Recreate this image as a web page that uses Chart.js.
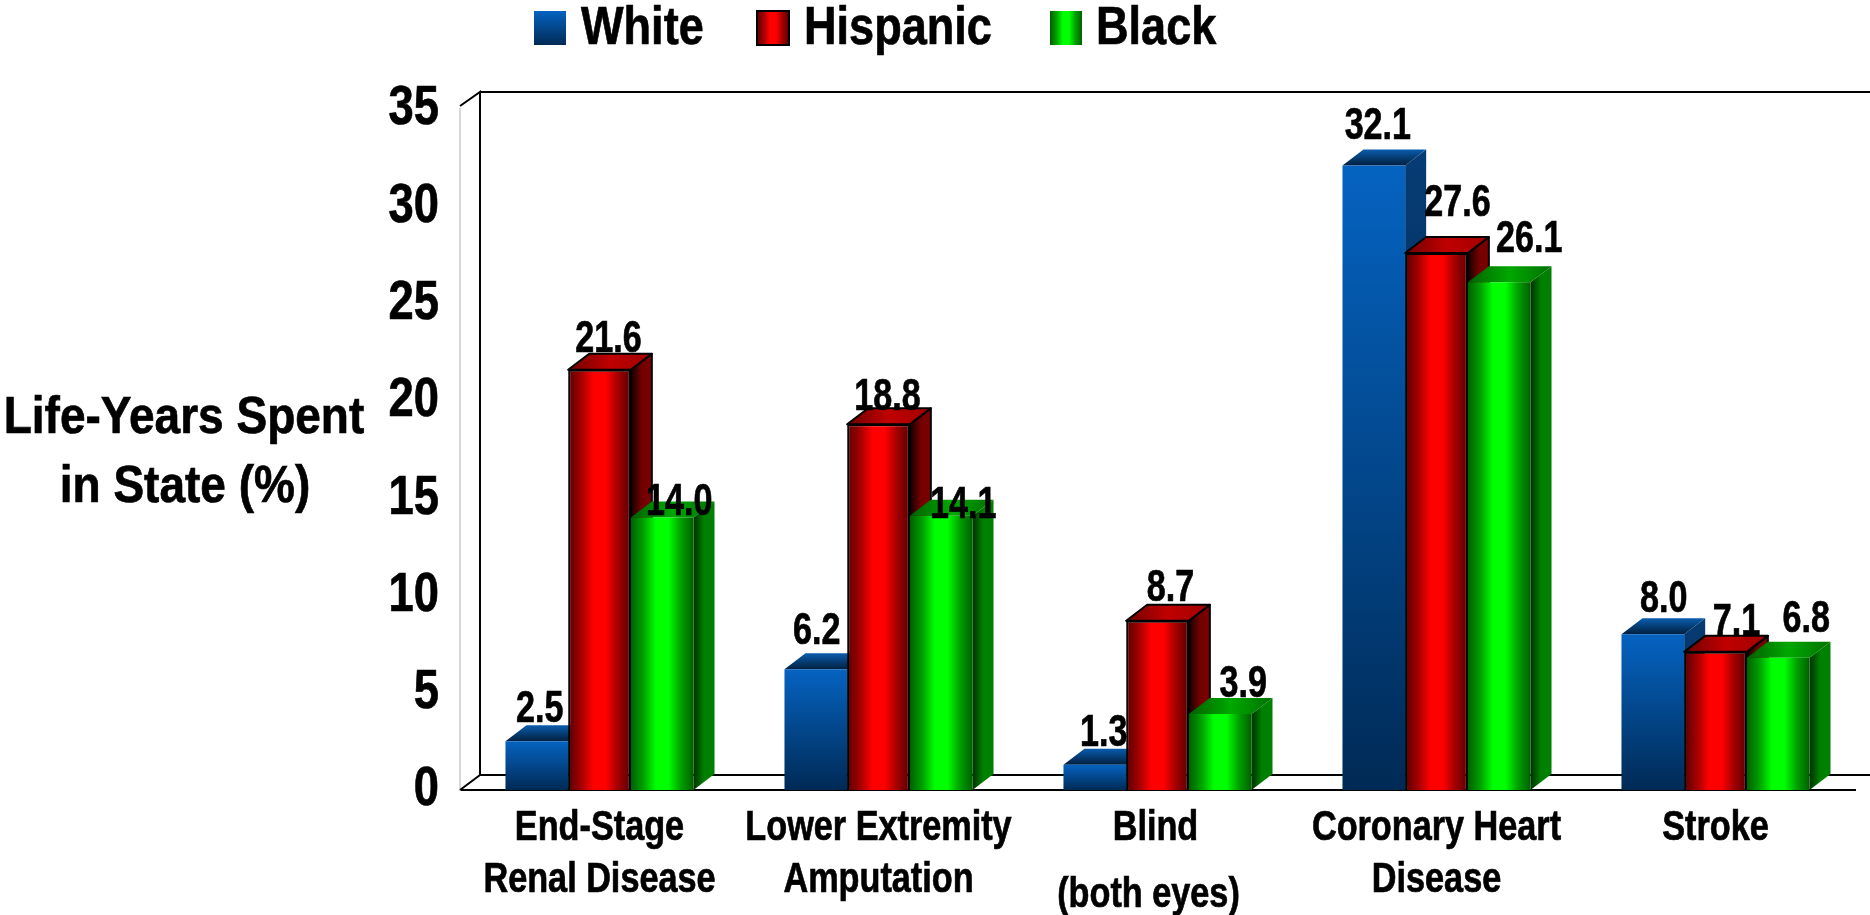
<!DOCTYPE html>
<html>
<head>
<meta charset="utf-8">
<title>Life-Years Spent in State</title>
<script src="https://cdn.jsdelivr.net/npm/chart.js@4"></script>
<style>
  html, body { margin: 0; padding: 0; background: #fff; }
  #wrap { width: 1870px; height: 915px; }
</style>
</head>
<body>
<div id="wrap"><canvas id="myChart"></canvas></div>
<script>
const categories = [
  ["End-Stage", "Renal Disease"],
  ["Lower Extremity", "Amputation"],
  ["Blind", "(both eyes)"],
  ["Coronary Heart", "Disease"],
  ["Stroke"],
];
const white = [2.5, 6.2, 1.3, 32.1, 8.0];
const hispanic = [21.6, 18.8, 8.7, 27.6, 7.1];
const black = [14.0, 14.1, 3.9, 26.1, 6.8];
const seriesNames = ["White", "Hispanic", "Black"];
const yTitle = ["Life-Years Spent", "in State (%)"];

const FONT = '"Liberation Sans", Arial, sans-serif';
const GROUP_WIDTH = 0.674;
const DEPTH_X = 21;
const DEPTH_Y = 16;
const RED_STOPS = ["#5a0000", "#a00000", "#ff0000", "#ff0000", "#a00000", "#5a0000"];
const GREEN_STOPS = ["#006000", "#00a000", "#00ff00", "#00ff00", "#00a000", "#006000"];

// hand placed value labels: shift from the top centre of each bar, per series
const labelDx = [
  [3, 1, 9, 4, 11],
  [9, 9, 13, 21, 21],
  [17, 22, 23, 30, 28],
];
const labelDy = [
  [19, 25, 19, 26, 22],
  [18, 14, 20, 37, 17],
  [3, -2, 17, 30, 26],
];

// no narrow bold face is available, so the regular one gets squeezed and thickened
function narrowText(ctx, text, x, y, squeeze) {
  const w = ctx.measureText(text).width * squeeze;
  ctx.strokeStyle = "#000";
  ctx.lineWidth = 0.7;
  ctx.strokeText(text, x, y, w);
  ctx.fillText(text, x, y, w);
}

function sideGradient(ctx, x0, x1, stops) {
  const g = ctx.createLinearGradient(x0, 0, x1, 0);
  stops.forEach((c, i) => g.addColorStop(i / (stops.length - 1), c));
  return g;
}

function topDownGradient(ctx, y0, y1, c0, c1) {
  const g = ctx.createLinearGradient(0, y0, 0, y1);
  g.addColorStop(0, c0);
  g.addColorStop(1, c1);
  return g;
}

// front face of a bar, blue runs top to bottom, red and green are lit in the middle
function frontFill(c) {
  const chart = c.chart;
  const sx = chart.scales.x, sy = chart.scales.y;
  if (!chart.chartArea || !sx || c.parsed === undefined) return "#888";
  if (c.datasetIndex === 0) {
    return topDownGradient(chart.ctx, sy.getPixelForValue(c.parsed.y), sy.getPixelForValue(0), "#0563c1", "#002a55");
  }
  const w = (sx.width / categories.length) * GROUP_WIDTH / 3;
  const mid = sx.getPixelForValue(c.dataIndex) + (c.datasetIndex - 1) * w;
  return sideGradient(chart.ctx, mid - w / 2, mid + w / 2, c.datasetIndex === 1 ? RED_STOPS : GREEN_STOPS);
}

function poly(ctx, pts, fill, stroke) {
  ctx.beginPath();
  pts.forEach((p, i) => (i ? ctx.lineTo(p[0], p[1]) : ctx.moveTo(p[0], p[1])));
  ctx.closePath();
  ctx.fillStyle = fill;
  ctx.fill();
  if (stroke) {
    ctx.lineWidth = 2;
    ctx.lineJoin = "round";
    ctx.strokeStyle = stroke;
    ctx.stroke();
  }
}

// top and side faces go in before the front faces of the same series
function drawFaces(chart, index) {
  const ctx = chart.ctx;
  const base = chart.scales.y.getPixelForValue(0);
  chart.getDatasetMeta(index).data.forEach((bar) => {
    const l = bar.x - bar.width / 2, r = bar.x + bar.width / 2, t = bar.y;
    const side = [[r, t], [r + DEPTH_X, t - DEPTH_Y], [r + DEPTH_X, base - DEPTH_Y], [r, base]];
    const top = [[l, t], [l + DEPTH_X, t - DEPTH_Y], [r + DEPTH_X, t - DEPTH_Y], [r, t]];
    if (index === 0) {
      poly(ctx, side, topDownGradient(ctx, t - DEPTH_Y, base, "#063c74", "#00254a"));
      poly(ctx, top, topDownGradient(ctx, t - DEPTH_Y, t, "#0a5cad", "#001f3f"));
    } else if (index === 1) {
      poly(ctx, side, sideGradient(ctx, r, r + DEPTH_X, ["#100000", "#700000", "#800000"]), "#000");
      poly(ctx, top, sideGradient(ctx, l, r + DEPTH_X, ["#700000", "#c00000", "#a00000"]), "#000");
    } else {
      poly(ctx, side, sideGradient(ctx, r, r + DEPTH_X, ["#003000", "#008000", "#008000"]));
      poly(ctx, top, sideGradient(ctx, l, r + DEPTH_X, ["#006000", "#00a800", "#007000"]));
    }
  });
}

function drawValues(chart, index) {
  const ctx = chart.ctx;
  const values = chart.data.datasets[index].data;
  ctx.save();
  ctx.font = "bold 44px " + FONT;
  ctx.fillStyle = "#000";
  ctx.textAlign = "center";
  ctx.textBaseline = "alphabetic";
  chart.getDatasetMeta(index).data.forEach((bar, i) => {
    narrowText(ctx, values[i].toFixed(1), bar.x + labelDx[index][i], bar.y - labelDy[index][i], 0.775);
  });
  ctx.restore();
}

const bars3d = {
  id: "bars3d",
  beforeDatasetsDraw(chart) {
    const ctx = chart.ctx, a = chart.chartArea;
    const backTop = a.top - 17, backBase = a.bottom - 15;
    ctx.save();
    ctx.strokeStyle = "#000";
    ctx.lineWidth = 2;
    ctx.beginPath();
    ctx.moveTo(a.left, a.top - 3);
    ctx.lineTo(a.left + 20, backTop);
    ctx.lineTo(a.left + 20, backBase);
    ctx.lineTo(a.left, a.bottom);
    ctx.moveTo(a.left + 20, backTop);
    ctx.lineTo(chart.width, backTop);
    ctx.moveTo(a.left + 20, backBase);
    ctx.lineTo(chart.width, backBase);
    ctx.stroke();
    ctx.restore();

    // series run left to right with each one in front of the previous,
    // the opposite of the library's own draw order
    chart.data.datasets.forEach((d, i) => {
      ctx.save();
      drawFaces(chart, i);
      chart.getDatasetMeta(i).controller.draw();
      ctx.restore();
      drawValues(chart, i);
    });
  },
  beforeDatasetDraw() {
    return false;
  },
};

// axis labels, legend row and the horizontal y axis title
const sideText = {
  id: "sideText",
  afterDraw(chart) {
    const ctx = chart.ctx;
    const sx = chart.scales.x, sy = chart.scales.y;
    ctx.save();
    ctx.fillStyle = "#000";
    ctx.textBaseline = "middle";

    ctx.textAlign = "right";
    ctx.font = "bold 56px " + FONT;
    sy.ticks.forEach((tick, i) => {
      narrowText(ctx, String(tick.value), sy.left + 439, sy.getPixelForTick(i), 0.81);
    });

    ctx.textAlign = "center";
    ctx.font = "bold 42px " + FONT;
    sx.ticks.forEach((tick, i) => {
      const pitch = i === 2 ? 67 : 52;
      categories[i].forEach((line, n) => {
        // the second line under "Blind" sits left of centre
        const nudge = i === 2 ? (n === 1 ? -9 : -2) : 0;
        narrowText(ctx, line, sx.getPixelForTick(i) + nudge, sx.top + 38 + n * pitch, 0.815);
      });
    });

    ctx.font = "bold 52px " + FONT;
    narrowText(ctx, yTitle[0], 184, 419, 0.885);
    narrowText(ctx, yTitle[1], 185, 488, 0.885);

    const boxX = [534, 757, 1050];
    const textX = [581, 804, 1096];
    ctx.textAlign = "left";
    ctx.font = "bold 54px " + FONT;
    seriesNames.forEach((name, i) => {
      let fill;
      if (i === 0) fill = topDownGradient(ctx, 11, 45, "#0563c1", "#002a55");
      else fill = sideGradient(ctx, boxX[i], boxX[i] + 32, i === 1 ? RED_STOPS : GREEN_STOPS);
      ctx.fillStyle = fill;
      ctx.fillRect(boxX[i], 11, 32, 34);
      if (i === 1) {
        ctx.strokeStyle = "#000";
        ctx.lineWidth = 2;
        ctx.strokeRect(boxX[i], 11, 32, 34);
      }
      ctx.fillStyle = "#000";
      narrowText(ctx, name, textX[i], 29, 0.835);
    });
    ctx.restore();
  },
};

const dataset = (i, values) => ({
  label: seriesNames[i],
  data: values,
  backgroundColor: frontFill,
  borderColor: "#000",
  borderWidth: i === 1 ? 2 : 0,
  categoryPercentage: GROUP_WIDTH,
  barPercentage: 1,
});

new Chart(document.getElementById("myChart"), {
  type: "bar",
  data: {
    labels: categories,
    datasets: [dataset(0, white), dataset(1, hispanic), dataset(2, black)],
  },
  options: {
    responsive: true,
    maintainAspectRatio: false,
    animation: false,
    layout: { padding: { top: 109, right: 15, left: 0, bottom: 0 } },
    plugins: { legend: { display: false }, title: { display: false }, tooltip: { enabled: false } },
    scales: {
      x: {
        afterFit(scale) { scale.height = 125; },
        grid: { display: false },
        border: { color: "#000", width: 2 },
        ticks: { display: false, autoSkip: false, maxRotation: 0 },
      },
      y: {
        min: 0,
        max: 35,
        afterFit(scale) { scale.width = 460; },
        grid: { display: false },
        border: { color: "#d8d8d8", width: 2 },
        ticks: { display: false, stepSize: 5 },
      },
    },
  },
  plugins: [bars3d, sideText],
});
</script>
</body>
</html>
